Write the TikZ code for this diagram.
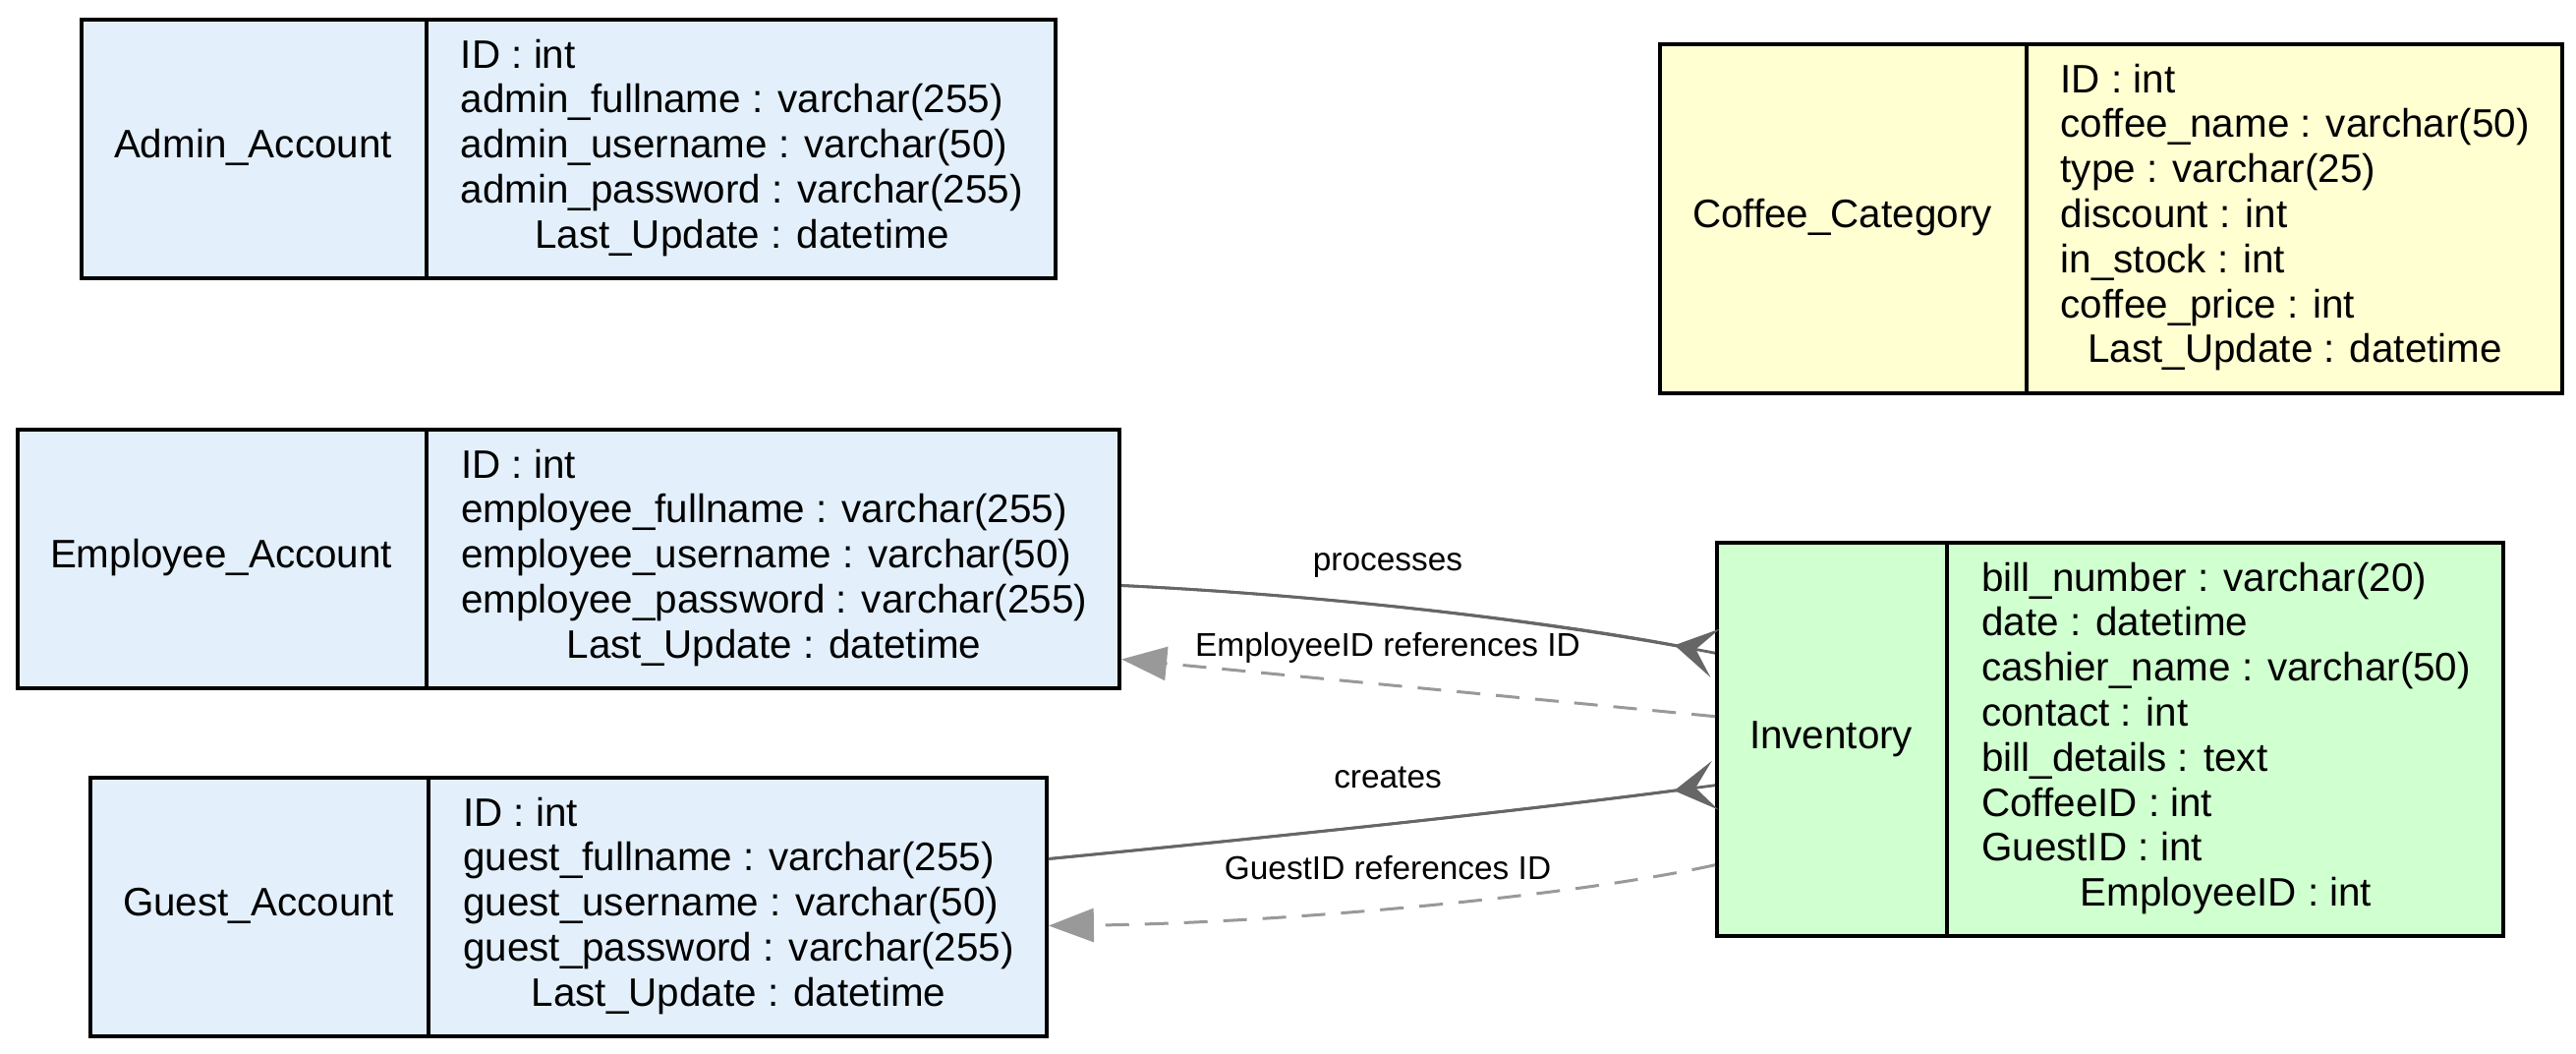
\documentclass[tikz,border=0pt]{standalone}
\usepackage{fontspec}
\setmainfont{Liberation Sans}
\usepackage{tikz}
\usetikzlibrary{shapes.multipart, arrows.meta}
\definecolor{acctblue}{RGB}{227,240,252}
\definecolor{coffeeyellow}{RGB}{255,255,210}
\definecolor{invgreen}{RGB}{208,255,208}
\definecolor{linkgray}{RGB}{102,102,102}
\definecolor{refgray}{RGB}{153,153,153}
\tikzstyle{record} = [rectangle split, rectangle split horizontal, rectangle split parts=2, draw=black, line width=2pt, inner xsep=16.5pt, inner ysep=8.5pt, anchor=north west, font=\fontsize{20.2}{22.9}\selectfont]
\tikzstyle{relation} = [line width=1.4pt, draw=linkgray, -{Stealth[reversed, length=21pt, width=25pt, inset=10pt]}, postaction={draw, -}]
\tikzstyle{reference} = [line width=1.5pt, draw=refgray, dash pattern=on 12pt off 8pt, -{Triangle[length=23pt, width=17pt]}]
\tikzstyle{edgelabel} = [font=\fontsize{16.7}{20}\selectfont, inner sep=0pt]

\begin{document}
\begin{tikzpicture}[x=0.5pt, y=-0.5pt]
        \useasboundingbox (0,0) rectangle (2621,1071);

        \node(admin) [record, fill=acctblue] at (81,18) {\begin{tabular}{@{}c@{}}Admin\_Account\end{tabular}
            \nodepart{two}\begin{tabular}{@{}l@{}}ID : int\\ admin\_fullname : varchar(255)\\ admin\_username : varchar(50)\\ admin\_password : varchar(255)\\ \multicolumn{1}{@{}c@{}}{Last\_Update : datetime}\end{tabular}};
        \node(coffee) [record, fill=coffeeyellow] at (1687,43) {\begin{tabular}{@{}c@{}}Coffee\_Category\end{tabular}
            \nodepart{two}\begin{tabular}{@{}l@{}}ID : int\\ coffee\_name : varchar(50)\\ type : varchar(25)\\ discount : int\\ in\_stock : int\\ coffee\_price : int\\ \multicolumn{1}{@{}c@{}}{Last\_Update : datetime}\end{tabular}};
        \node(employee) [record, fill=acctblue] at (16,435) {\begin{tabular}{@{}c@{}}Employee\_Account\end{tabular}
            \nodepart{two}\begin{tabular}{@{}l@{}}ID : int\\ employee\_fullname : varchar(255)\\ employee\_username : varchar(50)\\ employee\_password : varchar(255)\\ \multicolumn{1}{@{}c@{}}{Last\_Update : datetime}\end{tabular}};
        \node(guest) [record, fill=acctblue] at (90,789) {\begin{tabular}{@{}c@{}}Guest\_Account\end{tabular}
            \nodepart{two}\begin{tabular}{@{}l@{}}ID : int\\ guest\_fullname : varchar(255)\\ guest\_username : varchar(50)\\ guest\_password : varchar(255)\\ \multicolumn{1}{@{}c@{}}{Last\_Update : datetime}\end{tabular}};
        \node(inventory) [record, fill=invgreen] at (1745,550) {\begin{tabular}{@{}c@{}}Inventory\end{tabular}
            \nodepart{two}\begin{tabular}{@{}l@{}}bill\_number : varchar(20)\\ date : datetime\\ cashier\_name : varchar(50)\\ contact : int\\ bill\_details : text\\ CoffeeID : int\\ GuestID : int\\ \multicolumn{1}{@{}c@{}}{EmployeeID : int}\end{tabular}};

        \draw[relation] ([yshift=-13.5pt]employee.east) .. controls (1400,608) and (1620,640) .. ([yshift=44pt]inventory.west);
        \draw[reference] ([yshift=11.75pt]inventory.west) -- ([yshift=-51pt]employee.east);
        \draw[relation] ([yshift=24.5pt]guest.east) .. controls (1319,849) and (1545,825) .. ([yshift=-23.25pt]inventory.west);
        \draw[reference] ([yshift=-63.75pt]inventory.west) .. controls (1600,912) and (1300,939) .. ([yshift=-9.5pt]guest.east);

        \node(processes) [edgelabel] at (1412,575) {processes};
        \node(empref) [edgelabel] at (1412,659) {EmployeeID references ID};
        \node(creates) [edgelabel] at (1412,791) {creates};
        \node(guestref) [edgelabel] at (1412,883) {GuestID references ID};
    \end{tikzpicture}
\end{document}
